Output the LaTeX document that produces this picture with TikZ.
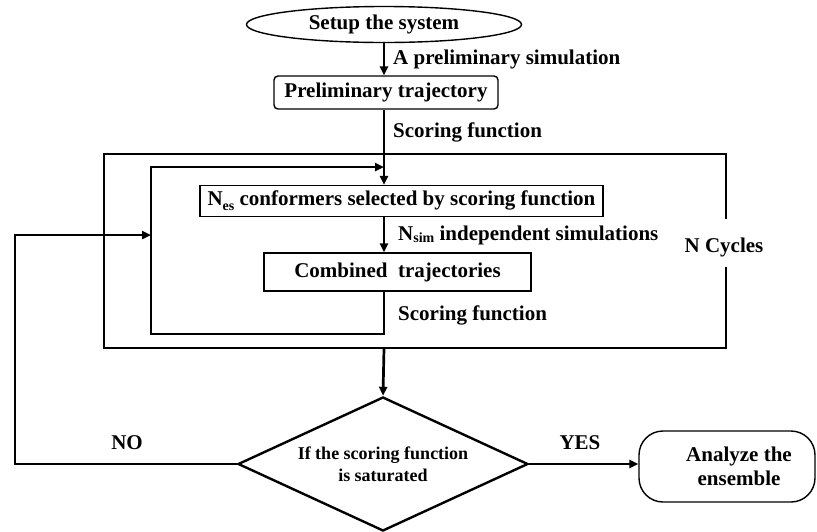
\documentclass[tikz,border=0pt]{standalone}
\usepackage{fontspec}
\setmainfont{Liberation Serif}
\usetikzlibrary{arrows.meta,shapes.geometric}
\begin{document}
\begin{tikzpicture}[x=1pt,y=-1pt,
  every node/.style={font=\fontsize{21}{23}\selectfont\bfseries},
  thinbox/.style={draw,line width=1.4pt,inner sep=0pt},
  arr/.style={line width=2.7pt,-{Triangle[length=9pt,width=8pt]}},
  ln/.style={line width=2.7pt},
  lab/.style={anchor=west,inner sep=0pt}]
\useasboundingbox (0,0) rectangle (817,531);
\coordinate (mx) at (384,0);
% nodes
\node[thinbox,ellipse,minimum width=275pt,minimum height=36pt] (setup) at (384,24.5) {Setup the system};
\node[thinbox,rounded corners=4pt,minimum width=224pt,minimum height=33pt] (prelim) at (386,92.5) {Preliminary trajectory};
\node[thinbox,minimum width=403pt,minimum height=31pt] (nes) at (401.5,201) {N\raisebox{-5pt}{\fontsize{14}{14}\selectfont es} conformers selected by scoring function};
\node[thinbox,minimum width=267pt,minimum height=38pt] (comb) at (397.5,272) {Combined\ \ trajectories};
\node[draw,line width=2.4pt,diamond,aspect=2.16,minimum width=290pt,minimum height=134pt,inner sep=0pt,align=center,font=\fontsize{18}{22}\selectfont\bfseries] (dia) at (383,464) {If the scoring function\\is saturated};
\node[thinbox,rounded corners=24pt,minimum width=176pt,minimum height=71pt,align=center,font=\fontsize{21}{24}\selectfont\bfseries] (ana) at (727,466.5) {\hspace*{24pt}Analyze the\\\hspace*{24pt}ensemble};
% labels
\node[lab] (l1) at (393,59) {A preliminary simulation};
\node[lab] (l2) at (393,132) {Scoring function};
\node[lab] (l3) at (398,235) {N\raisebox{-2pt}{\fontsize{14}{14}\selectfont sim} independent simulations};
\node[lab] (l4) at (398,315) {Scoring function};
\node (ncyc) at (724,247) {N Cycles};
\node (no) at (127,443) {NO};
\node (yes) at (580,443) {YES};
% outer frame
\coordinate (o1) at (726,219);
\coordinate (o2) at (726,154);
\coordinate (o3) at (104,154);
\coordinate (o4) at (104,348);
\coordinate (o5) at (726,348);
\coordinate (o6) at (726,267);
\draw[ln] (o1) -- (o2) -- (o3) -- (o4) -- (o5) -- (o6);
% inner loop
\coordinate (iBL) at (151,334);
\coordinate (iTL) at (151,167);
\coordinate (iT) at (384,167);
\draw[arr] (comb.south -| mx) -- (mx |- iBL) -- (iBL) -- (iTL) -- (iT);
% main flow
\draw[arr] (setup.south -| mx) -- (mx |- prelim.north);
\draw[arr] (prelim.south -| mx) -- (mx |- nes.north);
\draw[arr] (nes.south -| mx) -- (mx |- comb.north);
\draw[arr] (mx |- o4) -- (dia.north);
% NO loop
\coordinate (nL) at (15,464);
\coordinate (nT) at (15,235);
\coordinate (nE) at (151,235);
\draw[arr] (dia.west) -- (nL) -- (nT) -- (nE);
% YES
\draw[arr] (dia.east) -- (dia.east -| ana.west);
\end{tikzpicture}
\end{document}
